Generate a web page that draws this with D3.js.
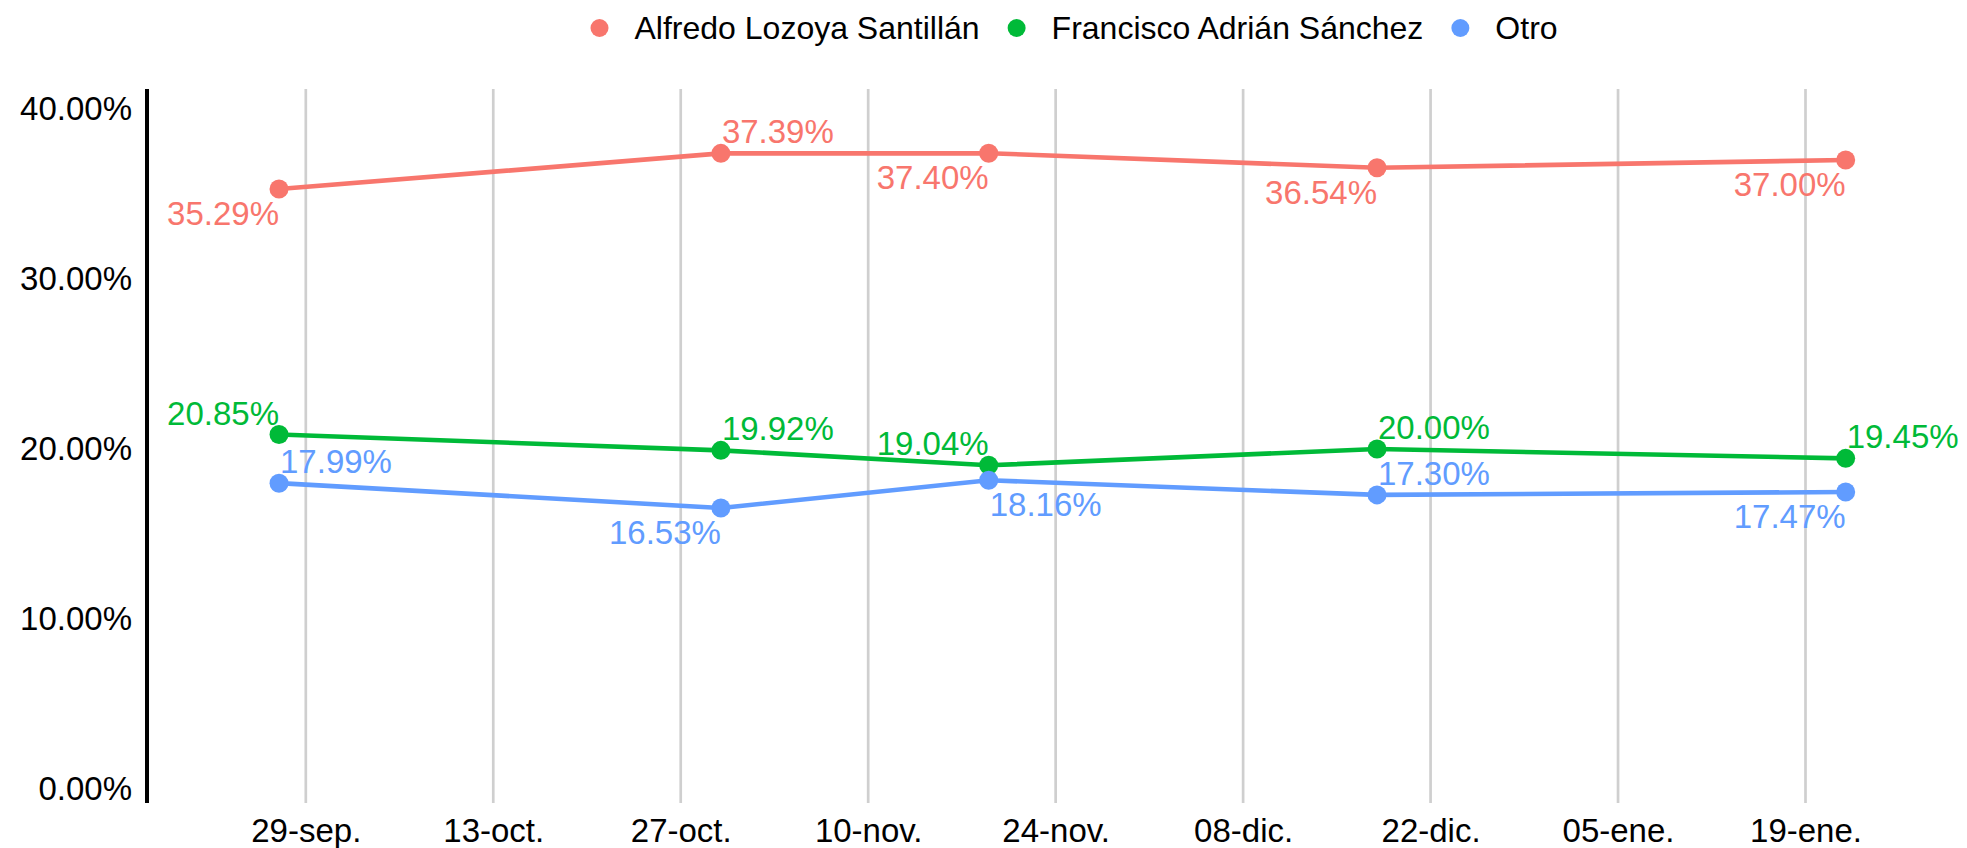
<!DOCTYPE html>
<html>
<head>
<meta charset="utf-8">
<script src="https://cdnjs.cloudflare.com/ajax/libs/d3/7.8.5/d3.min.js"></script>
<style>
  body { margin: 0; background: #fff; }
  text { font-family: "Liberation Sans", Arial, sans-serif; }
</style>
</head>
<body>
<div id="chart"></div>
<script>
// poll dates and shares (%)
var dates = ["2023-09-27", "2023-10-30", "2023-11-19", "2023-12-18", "2024-01-22"];
var alfredo = [35.29, 37.39, 37.40, 36.54, 37.00];
var francisco = [20.85, 19.92, 19.04, 20.00, 19.45];
var otro = [17.99, 16.53, 18.16, 17.30, 17.47];

var seriesNames = ["Alfredo Lozoya Santillán", "Francisco Adrián Sánchez", "Otro"];

// axis ticks
var tickDates = ["2023-09-29", "2023-10-13", "2023-10-27", "2023-11-10", "2023-11-24",
                 "2023-12-08", "2023-12-22", "2024-01-05", "2024-01-19"];
var yTicks = [0, 10, 20, 30, 40];

// where each value label sits relative to its point
var labelSide = [
  ["bl", "tr", "bl", "bl", "bl"],
  ["tl", "tr", "tl", "tr", "tr"],
  ["tr", "bl", "br", "tr", "bl"]
];

var W = 1967, H = 848;
var colors = ["#F8766D", "#00BA38", "#619CFF"];
var parse = d3.timeParse("%Y-%m-%d");

var es = d3.timeFormatLocale({
  dateTime: "%x, %X", date: "%d/%m/%Y", time: "%H:%M:%S", periods: ["AM", "PM"],
  days: ["domingo", "lunes", "martes", "miércoles", "jueves", "viernes", "sábado"],
  shortDays: ["dom", "lun", "mar", "mié", "jue", "vie", "sáb"],
  months: ["enero", "febrero", "marzo", "abril", "mayo", "junio", "julio", "agosto",
           "septiembre", "octubre", "noviembre", "diciembre"],
  shortMonths: ["ene", "feb", "mar", "abr", "may", "jun", "jul", "ago", "sep", "oct", "nov", "dic"]
});
var fmtDate = es.format("%d-%b.");

var svg = d3.select("#chart").append("svg")
  .attr("width", W).attr("height", H);

var panelTop = 89, panelBottom = 803, panelLeft = 147;

var ticksParsed = tickDates.map(parse);
var x = d3.scaleTime()
  .domain([ticksParsed[0], ticksParsed[ticksParsed.length - 1]])
  .range([305.8, 1805.5]);

var y = d3.scaleLinear()
  .domain([0, 40])
  .range([789, 109]);

// vertical grid
svg.append("g").selectAll("line")
  .data(ticksParsed)
  .enter().append("line")
  .attr("x1", d => x(d)).attr("x2", d => x(d))
  .attr("y1", panelTop).attr("y2", panelBottom)
  .attr("stroke", "#cfcfcf")
  .attr("stroke-width", 2.7);

// x axis labels
var xAxis = svg.append("g")
  .attr("transform", "translate(0," + panelBottom + ")")
  .call(d3.axisBottom(x).tickValues(ticksParsed).tickSize(0).tickPadding(16).tickFormat(fmtDate));
xAxis.select(".domain").remove();
xAxis.selectAll("text")
  .attr("fill", "#000")
  .style("font-size", "33px")
  .attr("dy", "0.71em");

// y axis
var yAxis = svg.append("g")
  .attr("transform", "translate(" + panelLeft + ",0)")
  .call(d3.axisLeft(y).tickValues(yTicks).tickSize(0).tickPadding(15)
    .tickFormat(d => d.toFixed(2) + "%"));
yAxis.select(".domain").remove();
yAxis.selectAll("text")
  .attr("fill", "#000")
  .style("font-size", "33px");

svg.append("line")
  .attr("x1", panelLeft).attr("x2", panelLeft)
  .attr("y1", panelTop).attr("y2", panelBottom)
  .attr("stroke", "#000")
  .attr("stroke-width", 4);

// series
var allSeries = [alfredo, francisco, otro].map(function(vals, i) {
  return {
    name: seriesNames[i],
    color: colors[i],
    points: vals.map(function(v, j) {
      return { date: parse(dates[j]), value: v, side: labelSide[i][j] };
    })
  };
});

var line = d3.line()
  .x(d => x(d.date))
  .y(d => y(d.value));

var groups = svg.selectAll(".series")
  .data(allSeries)
  .enter().append("g")
  .attr("class", "series");

groups.append("path")
  .attr("d", d => line(d.points))
  .attr("fill", "none")
  .attr("stroke", d => d.color)
  .attr("stroke-width", 4.6);

groups.selectAll("circle")
  .data(d => d.points.map(p => Object.assign({ color: d.color }, p)))
  .enter().append("circle")
  .attr("cx", d => x(d.date))
  .attr("cy", d => y(d.value))
  .attr("r", 9.5)
  .attr("fill", d => d.color);

groups.selectAll(".lbl")
  .data(d => d.points.map(p => Object.assign({ color: d.color }, p)))
  .enter().append("text")
  .attr("class", "lbl")
  .attr("x", d => x(d.date) + (d.side[1] === "r" ? 1 : 0))
  .attr("y", d => y(d.value) + (d.side[0] === "t" ? -10 : 36))
  .attr("text-anchor", d => d.side[1] === "r" ? "start" : "end")
  .attr("fill", d => d.color)
  .style("font-size", "33px")
  .text(d => d.value.toFixed(2) + "%");

// legend
var legend = svg.append("g").attr("transform", "translate(0,28)");
var lx = 599.5;
seriesNames.forEach(function(name, i) {
  legend.append("circle")
    .attr("cx", lx).attr("cy", 0).attr("r", 9)
    .attr("fill", colors[i]);
  var t = legend.append("text")
    .attr("x", lx + 35).attr("y", 0).attr("dy", "0.35em")
    .attr("fill", "#000")
    .style("font-size", "32px")
    .text(name);
  lx += 35 + t.node().getComputedTextLength() + 37;
});
</script>
</body>
</html>
